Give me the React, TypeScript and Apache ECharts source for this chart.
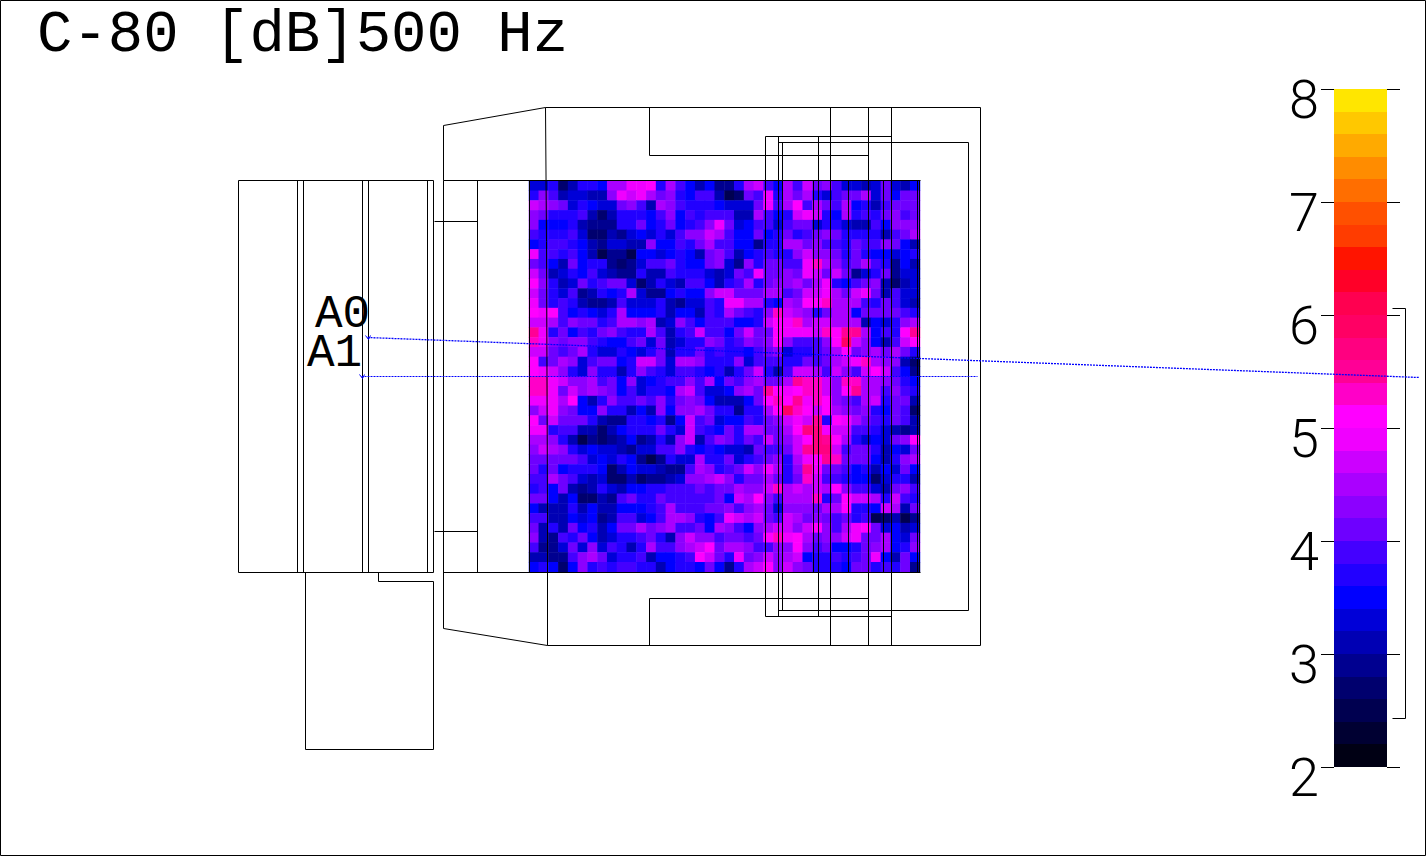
import React, { useEffect, useRef } from "react";
import * as echarts from "echarts";

const titleText = "C-80 [dB]500 Hz";
const tickValues = [2, 3, 4, 5, 6, 7, 8];

// colour bands of the scale: [low, high, colour]
const bandEdges = [2, 2.2, 2.4, 2.6, 2.8, 3, 3.2, 3.4, 3.6, 3.8, 4, 4.2, 4.4, 4.6, 4.8, 5, 5.2, 5.4, 5.6, 5.8, 6, 6.2, 6.4, 6.6, 6.8, 7, 7.2, 7.4, 7.6, 7.8, 8];
const bandColors = [
  "#000014", "#000032", "#000050", "#00006e", "#000090",
  "#0000b4", "#0000d8", "#0000ff", "#2200ff", "#4400ff",
  "#6e00ff", "#8c00ff", "#aa00ff", "#cc00ff", "#f000ff",
  "#ff00ff", "#ff00c8", "#ff0096", "#ff0080", "#ff0064",
  "#ff0050", "#ff0028", "#ff1400", "#ff3c00", "#ff5000",
  "#ff6e00", "#ff8c00", "#ffaa00", "#ffc800", "#ffe600",
];

// C-80 per seat-map cell, 40 rows of 40 columns (top row first)
const leftRows = [
  [3.3,3.3,3.7,2.7,3.1,3.7,3.7,3.5,4.5,4.5,4.9,4.9,5.1,3.7,4.5,3.9,3.5,3.1,3.5,2.9],
  [3.7,4.3,3.9,3.1,3.3,3.3,3.1,3.1,4.3,4.9,4.7,4.9,4.5,4.1,4.3,3.7,3.5,3.9,3.9,3.1],
  [4.7,4.5,4.3,4.1,3.3,3.7,3.5,3.3,3.3,4.1,4.3,3.9,3.1,4.5,4.3,3.9,3.7,3.7,3.7,3.5],
  [4.3,4.1,3.7,3.7,3.7,3.9,3.1,2.6,3.1,3.7,3.7,3.7,3.5,3.9,4.3,3.5,3.9,3.7,3.9,3.9],
  [4.3,3.5,3.5,3.5,3.7,3.0,2.9,2.9,2.8,3.6,3.6,4.1,3.5,3.7,4.1,3.5,3.7,3.9,4.3,4.9],
  [3.9,3.7,3.7,3.7,3.9,3.3,2.7,2.7,3.0,2.8,3.3,3.4,3.3,3.7,3.2,3.9,4.3,4.3,4.7,4.5],
  [3.5,3.7,3.9,3.9,3.7,3.5,3.0,2.8,3.3,3.2,3.1,3.1,4.3,3.5,3.5,3.9,3.7,4.1,4.5,3.9],
  [4.9,3.9,3.9,3.6,3.9,3.5,3.1,2.5,2.8,2.8,2.5,3.5,3.5,3.2,3.5,3.7,3.5,3.1,4.1,4.3],
  [4.1,3.9,3.5,3.1,4.1,3.5,3.7,3.7,2.9,2.7,2.8,3.3,3.9,3.8,4.1,3.7,3.5,3.5,4.1,4.3],
  [4.7,4.1,3.0,3.2,3.6,3.5,3.9,3.3,3.1,2.8,2.8,3.6,3.0,3.0,3.9,3.7,3.7,3.7,3.3,3.0],
  [5.1,4.3,3.7,3.1,3.3,4.1,3.7,3.9,4.1,4.1,3.2,2.7,3.0,3.7,3.2,3.0,3.9,3.9,3.5,3.1],
  [4.7,4.1,3.6,3.2,3.9,2.8,3.0,3.6,3.5,3.7,4.5,3.3,2.8,2.9,3.5,3.7,3.5,3.5,4.3,4.7],
  [4.9,4.1,3.7,3.9,3.7,3.0,2.9,2.9,3.0,3.9,3.2,3.2,3.2,3.7,3.1,2.8,3.2,3.2,3.8,3.7],
  [5.1,4.9,5.1,3.9,3.5,3.7,3.5,3.2,3.7,4.5,3.5,3.5,3.5,3.6,3.0,3.5,3.5,3.0,3.9,3.7],
  [4.7,4.7,4.5,3.9,4.3,4.1,4.1,3.7,3.9,4.5,4.5,4.3,4.5,3.0,3.2,4.3,3.9,3.5,3.9,3.9],
  [5.5,4.9,3.7,4.1,3.5,3.9,3.7,4.1,4.3,3.9,3.6,3.6,4.5,3.9,3.1,3.7,3.9,4.7,3.9,3.9],
  [5.3,4.9,4.3,4.1,4.3,4.3,3.9,3.7,3.5,3.5,3.9,4.1,3.2,4.1,3.0,3.2,3.7,3.7,4.3,4.1],
  [4.7,4.7,4.1,3.9,4.1,4.5,3.7,3.3,3.3,3.7,3.5,3.2,3.7,4.1,3.1,3.6,3.6,4.1,3.7,3.9],
  [5.1,3.9,4.1,4.5,4.3,3.2,3.9,4.1,4.1,3.5,3.7,4.7,4.7,4.1,3.2,4.5,4.5,4.3,3.7,3.6],
  [5.1,4.9,4.7,4.3,3.7,3.3,4.3,3.7,3.7,3.0,3.7,4.3,3.9,3.7,3.3,3.9,3.9,3.7,3.5,3.7],
  [5.3,5.3,4.9,4.7,4.3,4.3,4.5,3.9,4.1,3.5,4.3,3.2,3.5,3.7,3.9,3.9,4.3,3.9,4.5,3.4],
  [5.3,5.3,4.9,4.1,4.7,4.3,4.5,4.3,4.1,3.5,3.9,3.2,3.7,3.7,3.5,4.5,4.7,3.9,3.3,3.3],
  [4.9,4.9,4.9,4.5,5.1,3.5,3.1,3.7,4.3,3.9,3.9,4.1,3.9,4.3,3.7,4.1,4.3,4.1,3.5,3.0],
  [4.3,4.7,4.9,4.3,4.1,3.5,3.5,4.3,3.7,3.7,3.1,3.5,3.1,4.3,3.5,4.3,4.3,4.5,4.1,3.7],
  [5.1,4.1,4.7,4.1,4.1,4.1,3.7,3.1,2.8,2.9,3.7,3.6,3.5,3.7,2.9,3.5,4.7,3.9,4.1,3.2],
  [4.9,4.9,3.7,3.9,3.9,3.0,3.0,2.6,3.0,3.5,3.7,3.6,3.6,4.1,3.7,3.2,4.7,3.9,3.7,3.5],
  [4.5,4.5,4.3,3.7,3.0,2.4,2.9,2.6,2.9,3.1,3.5,2.8,3.0,3.6,3.1,4.3,4.7,3.1,3.9,4.3],
  [4.3,4.7,4.5,4.3,3.7,3.3,3.5,3.2,3.2,3.0,2.8,3.2,3.2,3.9,3.9,4.3,3.7,3.5,3.7,3.5],
  [4.1,4.1,4.1,4.1,4.1,3.9,3.3,3.5,3.2,3.7,3.5,2.9,2.4,2.8,3.7,3.3,3.3,4.5,3.7,3.7],
  [4.1,3.7,4.1,3.5,3.7,3.7,3.7,3.5,2.7,3.1,3.5,3.3,3.2,3.0,2.8,2.8,3.9,4.5,4.3,3.7],
  [3.9,3.9,4.5,4.1,3.9,3.2,3.0,3.2,2.7,2.7,3.0,2.6,2.9,2.9,3.1,3.3,4.3,4.3,4.5,4.7],
  [3.7,3.9,3.5,4.1,3.1,2.8,3.0,3.6,3.3,3.1,3.5,3.5,3.6,3.6,3.9,3.9,3.9,4.1,3.8,4.1],
  [4.1,4.1,3.5,3.0,3.5,2.6,2.7,3.1,2.8,3.9,4.1,3.7,3.7,4.1,3.9,3.9,3.8,3.9,3.9,4.0],
  [3.5,3.1,3.1,3.0,3.7,3.0,3.5,3.1,3.1,3.5,3.5,3.5,3.7,3.8,4.5,3.9,3.9,3.9,4.0,4.1],
  [3.9,3.9,3.0,3.0,3.5,3.3,3.5,2.9,3.0,3.9,3.9,3.2,3.5,3.9,4.5,4.5,4.3,3.7,3.5,3.9],
  [4.1,3.1,3.7,3.0,4.1,3.5,3.7,3.1,3.5,4.1,4.1,4.5,4.1,4.3,4.5,3.8,3.9,4.1,3.5,4.4],
  [4.3,3.0,2.9,3.9,3.7,4.1,3.5,3.1,3.2,3.7,3.7,3.8,4.1,3.7,3.0,4.3,4.7,4.3,4.3,3.9],
  [3.8,2.9,2.9,3.2,4.1,3.3,4.3,3.3,3.8,3.7,3.1,3.7,4.5,3.9,3.9,4.3,4.5,4.7,5.1,4.1],
  [3.0,3.0,2.9,2.9,3.9,4.3,4.5,4.1,3.2,3.7,3.7,3.9,3.1,3.5,3.5,3.7,3.9,5.0,4.7,4.1],
  [3.5,3.6,3.5,2.7,3.5,4.3,3.7,3.9,3.7,3.9,3.9,3.7,3.7,3.1,3.5,3.7,3.6,3.5,4.1,3.5],
];
const rightRows = [
  [2.9,3.7,4.5,4.7,3.9,3.5,4.5,3.9,4.7,4.1,4.3,3.9,3.3,3.3,3.1,3.2,4.1,3.3,3.0,3.4],
  [2.5,2.7,4.1,3.9,4.9,3.7,4.5,4.1,4.5,3.7,3.3,3.9,4.1,4.1,4.5,3.3,4.1,3.5,4.1,4.1],
  [3.2,3.2,3.2,4.1,4.9,3.9,4.5,5.1,3.9,4.5,4.1,3.9,4.5,3.5,3.7,3.1,3.9,4.1,4.1,4.1],
  [3.9,3.0,3.0,4.5,3.9,3.5,3.7,4.7,4.9,4.7,3.7,3.5,4.5,3.7,3.9,3.7,4.1,4.3,3.8,4.1],
  [4.1,3.3,3.5,3.9,3.9,3.3,3.9,4.1,4.1,3.3,3.6,3.6,3.3,3.0,3.0,3.9,3.5,4.3,4.3,4.3],
  [3.9,3.5,3.5,4.1,3.5,3.7,4.1,3.7,3.8,4.1,4.3,4.1,3.7,3.7,3.7,3.6,3.1,3.9,4.1,4.5],
  [3.9,3.5,3.5,2.9,3.7,3.7,4.5,4.5,4.1,4.3,3.9,3.9,3.6,4.1,3.9,3.9,4.3,4.1,3.5,3.1],
  [3.9,3.0,3.5,3.7,3.9,3.6,3.7,4.3,4.7,4.3,4.3,4.1,3.7,4.1,3.7,3.5,3.5,3.3,3.5,3.7],
  [3.2,2.8,4.3,3.7,4.1,4.1,3.9,3.9,4.9,5.3,4.5,4.3,3.9,4.1,4.5,3.9,3.7,2.8,3.5,3.1],
  [3.3,4.1,3.8,4.9,4.1,4.1,4.3,4.1,4.9,4.7,4.1,4.7,4.1,2.9,3.2,3.7,4.1,2.8,3.2,3.2],
  [3.6,3.9,4.5,3.7,4.1,4.3,4.3,4.5,4.1,4.5,4.9,3.6,3.5,3.9,4.1,4.3,3.0,2.7,3.0,3.3],
  [4.7,4.1,4.1,4.1,4.5,4.5,3.9,4.1,4.7,4.7,4.9,4.5,4.1,4.7,4.9,4.1,3.1,3.9,3.2,3.3],
  [4.9,4.9,4.5,4.5,3.7,3.5,4.5,4.3,5.1,5.1,5.3,4.5,4.5,4.5,3.9,3.6,4.1,3.9,3.2,3.0],
  [4.5,4.1,3.9,3.6,4.3,5.3,4.7,4.5,4.3,3.7,4.1,4.5,4.5,3.5,4.1,4.1,4.1,4.1,3.9,3.6],
  [3.9,3.5,3.5,3.7,4.7,5.1,4.9,5.3,4.5,4.7,4.7,4.5,4.5,4.5,3.1,3.5,3.2,3.7,4.3,4.5],
  [3.5,4.1,4.7,4.1,4.1,5.1,4.9,4.9,4.9,4.7,5.3,5.1,5.5,5.5,4.5,3.5,3.9,3.7,5.1,5.5],
  [3.7,3.9,4.3,4.1,4.3,5.1,4.3,3.9,3.9,3.9,4.3,5.1,5.9,4.7,4.3,3.5,3.0,3.9,4.7,5.1],
  [3.7,3.7,3.5,3.9,4.1,4.3,3.3,3.7,3.7,3.9,4.1,4.5,5.1,4.1,4.3,4.5,4.1,4.5,4.1,3.7],
  [3.6,4.3,3.2,3.9,3.9,3.9,3.7,3.7,4.1,3.9,4.1,4.5,4.7,4.9,5.3,4.5,4.3,4.3,3.1,2.7],
  [3.0,3.7,4.1,4.7,3.6,3.0,3.9,4.7,4.7,4.5,3.9,4.7,4.3,3.9,4.7,5.1,4.7,3.9,3.5,2.8],
  [4.1,3.9,4.3,4.5,4.1,4.0,4.5,5.5,5.3,5.3,4.7,4.3,5.3,5.3,4.5,4.5,4.3,4.1,3.7,3.4],
  [3.5,4.3,4.5,4.1,5.5,5.1,4.9,5.1,5.3,5.3,4.7,4.3,5.1,5.5,4.5,4.5,3.9,4.3,3.9,3.7],
  [3.0,3.1,3.5,4.1,5.1,5.3,5.1,5.5,4.9,5.3,5.1,4.3,4.1,3.9,4.5,4.7,3.7,4.1,4.1,3.1],
  [3.6,2.9,3.7,3.7,4.5,5.1,5.9,5.3,5.1,4.7,5.1,4.5,4.3,4.1,4.3,3.7,3.5,4.1,3.9,2.7],
  [3.4,3.4,3.9,3.7,4.1,4.3,4.7,4.9,4.7,5.5,3.6,5.1,4.9,4.5,4.1,3.9,3.6,4.0,3.8,3.0],
  [4.1,3.7,4.4,4.4,4.1,4.1,4.5,5.1,5.7,5.7,4.9,4.7,4.7,3.9,3.9,3.6,3.3,3.0,2.9,3.1],
  [4.0,3.7,4.1,3.9,4.7,4.1,4.3,4.7,5.1,5.7,5.5,5.1,4.5,3.7,3.3,3.5,3.3,4.1,4.3,5.1],
  [3.3,3.3,3.1,4.1,3.8,3.9,4.1,4.7,5.5,5.7,5.7,4.7,3.9,4.1,4.1,3.7,3.1,3.5,3.3,4.1],
  [4.1,3.2,3.6,3.9,4.1,4.3,3.7,4.5,4.9,5.1,5.5,5.3,4.1,4.1,4.1,3.5,3.1,3.7,4.3,4.5],
  [3.9,4.1,4.6,4.2,4.9,4.5,3.7,4.3,5.5,4.9,4.1,4.1,3.9,3.5,3.6,3.1,3.5,3.2,4.1,3.5],
  [4.3,3.7,4.1,4.1,4.5,4.1,3.6,4.1,5.3,4.7,3.9,3.9,3.7,3.5,3.5,2.7,3.2,3.7,3.6,3.0],
  [4.0,4.4,4.3,4.3,4.7,5.3,4.5,4.7,4.5,4.7,4.5,5.0,4.3,3.8,3.9,3.2,3.0,4.1,4.3,3.8],
  [3.5,4.7,4.5,5.1,4.3,3.9,4.5,4.5,4.5,5.3,3.6,4.1,5.1,4.7,4.7,4.5,3.7,4.7,3.9,3.7],
  [4.3,3.9,4.3,4.5,4.1,3.3,4.3,4.3,4.3,4.1,4.5,4.5,5.1,3.6,3.7,3.5,4.7,4.5,3.1,4.1],
  [4.9,4.7,4.5,4.6,4.1,3.9,4.7,4.5,4.1,4.3,4.1,3.9,4.1,3.7,3.9,2.5,2.7,3.1,2.4,2.9],
  [4.3,3.8,3.5,4.3,4.5,4.7,4.7,4.3,4.7,5.1,4.2,3.9,4.5,4.9,5.1,4.1,3.2,3.5,3.1,3.2],
  [4.1,4.1,3.9,4.1,5.1,5.3,4.9,5.0,4.5,4.1,4.3,4.3,4.7,4.9,4.0,4.1,4.5,3.4,3.3,4.1],
  [4.5,4.5,4.3,3.9,3.9,4.3,4.3,5.1,4.3,3.8,4.1,3.5,3.5,3.7,4.0,4.3,4.5,3.5,3.7,4.2],
  [3.6,4.9,4.1,4.3,4.6,4.3,4.5,4.7,3.4,3.7,3.6,3.9,3.7,3.9,4.1,4.9,3.4,3.1,4.1,3.5],
  [2.9,3.7,4.5,4.7,5.0,4.3,4.7,4.3,4.0,3.7,3.7,3.7,3.5,4.1,4.1,3.7,3.9,3.7,4.1,2.9],
];

// outline of the hall plan, in plan units
const pageFrame = [[0,0],[1425,0],[1425,855],[0,855],[0,0]];
const stageBlock = [[238,180],[433,180],[433,572],[238,572],[238,180]];
const stageSide = [[378,572],[378,581],[433,581],[433,749],[305,749],[305,572]];
const hallOutline = [[443,180],[443,125],[545,107],[980,107],[980,645],[547,645],[443,628],[443,180]];
const hallFloor = [[443,180],[920,180]];
const hallFront = [[443,572],[920,572]];
const sideWall = [[545,107],[546,241],[547,511],[547,645]];
const upperBalcony = [[649,107],[649,155],[868,155]];
const lowerBalcony = [[649,645],[649,598],[868,598]];
const outerBox = [[765,136],[891,136]];
const outerBoxLow = [[765,616],[891,616]];
const innerBox = [[778,142],[968,142],[968,610],[778,610]];
const alcoveTop = [[434,221],[477,221]];
const alcoveLow = [[434,531],[477,531]];
const stageColumns = [297,303,362,368,427];
const floorColumn = [477];
const longColumns = [830,868,891];
const boxColumns = [765,778,818];
const innerColumn = [782];
const seatColumns = [813,848,883,917,919];
const seatEdge = [529];

// source-receiver section lines
const sectionA0 = [[367,337],[1419,377]];
const sectionA1 = [[361,376],[977,376]];
const markA0 = [[365,335],[368,339],[370,335]];
const markA1 = [[359,374],[362,378],[364,374]];

const verticals = (xs: number[], y0: number, y1: number) => xs.map((x) => [[x, y0], [x, y1]]);

const blackLines = [
  pageFrame, stageBlock, stageSide, hallOutline, hallFloor, hallFront, sideWall,
  upperBalcony, lowerBalcony, outerBox, outerBoxLow, innerBox, alcoveTop, alcoveLow,
  ...verticals(stageColumns, 180, 572),
  ...verticals(floorColumn, 180, 572),
  ...verticals(longColumns, 107, 645),
  ...verticals(boxColumns, 136, 616),
  ...verticals(innerColumn, 142, 610),
  ...verticals(seatColumns, 180, 572),
  ...verticals(seatEdge, 180, 572),
];
const blueLines = [sectionA0, sectionA1, markA0, markA1];

const lineSeries = (pts: number[][], color: string, dash?: number[], width = 1) => ({
  type: "line",
  xAxisIndex: 0,
  yAxisIndex: 0,
  data: pts.map(([x, y]) => [x + 0.5, y + 0.5]),
  showSymbol: false,
  symbol: "none",
  silent: true,
  clip: false,
  z: 5,
  lineStyle: { color, width, type: dash || "solid", cap: "butt" },
});

export default function App() {
  const ref = useRef<HTMLDivElement>(null);
  useEffect(() => {
    const chart = echarts.init(ref.current!, undefined, { renderer: "svg" });
    const heat: number[][] = [];
    leftRows.forEach((row, r) => {
      row.forEach((v, c) => heat.push([c, r, v]));
      rightRows[r].forEach((v, c) => heat.push([c + 20, r, v]));
    });
    const cats = Array.from({ length: 40 }, (_, i) => String(i));
    const bandData = bandColors.map((_, i) => [bandEdges[i], bandEdges[i + 1], i]);
    chart.setOption({
      animation: false,
      backgroundColor: "#ffffff",
      title: {
        text: titleText,
        left: 37,
        top: 6,
        padding: 0,
        textStyle: { fontFamily: "Liberation Mono", fontSize: 59, fontWeight: "normal", color: "#000" },
      },
      tooltip: { show: false },
      grid: [
        { left: 0, top: 0, width: 1426, height: 857 },
        { left: 529, top: 181, width: 391, height: 391 },
        { left: 1334, top: 89, width: 53, height: 678 },
      ],
      xAxis: [
        { type: "value", gridIndex: 0, min: 0, max: 1426, show: false },
        { type: "category", gridIndex: 1, data: cats, show: false },
        { type: "value", gridIndex: 2, min: 0, max: 1, show: false },
      ],
      yAxis: [
        { type: "value", gridIndex: 0, min: 0, max: 857, inverse: true, show: false },
        { type: "category", gridIndex: 1, data: cats, inverse: true, show: false },
        {
          type: "value",
          gridIndex: 2,
          min: 2,
          max: 8,
          interval: 1,
          position: "left",
          splitLine: { show: false },
          axisLine: { show: false },
          axisTick: { show: true, length: 13, lineStyle: { color: "#000", width: 1 } },
          axisLabel: {
            show: true,
            margin: 15,
            fontFamily: "Roboto",
            fontWeight: 300,
            fontSize: 54,
            color: "#000",
            verticalAlign: "top",
            lineHeight: 20,
            formatter: (v: number) => (tickValues.includes(v) ? String(v) : ""),
          },
        },
        {
          type: "value",
          gridIndex: 2,
          min: 2,
          max: 8,
          interval: 1,
          position: "right",
          splitLine: { show: false },
          axisLine: { show: false },
          axisTick: { show: true, length: 13, lineStyle: { color: "#000", width: 1 } },
          axisLabel: { show: false },
        },
      ],
      visualMap: {
        type: "piecewise",
        show: false,
        seriesIndex: 0,
        dimension: 2,
        pieces: bandColors.map((color, i) => ({ gte: bandEdges[i], lt: bandEdges[i + 1], color })),
      },
      graphic: [
        { type: "text", x: 315, y: 296, z: 10, style: { text: "A0", font: "46px 'Liberation Mono'", lineHeight: 38, fill: "#000" } },
        { type: "text", x: 307, y: 335, z: 10, style: { text: "A1", font: "46px 'Liberation Mono'", lineHeight: 38, fill: "#000" } },
        {
          type: "group",
          z: 10,
          children: [
            { type: "polyline", shape: { points: [[1392.5, 308.5], [1405.5, 308.5], [1405.5, 718.5], [1392.5, 718.5]] }, style: { stroke: "#000", fill: "none", lineWidth: 1 } },
          ],
        },
      ],
      series: [
        {
          type: "heatmap",
          xAxisIndex: 1,
          yAxisIndex: 1,
          data: heat,
          z: 2,
          silent: true,
          itemStyle: { borderWidth: 0 },
          emphasis: { disabled: true },
        },
        {
          type: "custom",
          xAxisIndex: 2,
          yAxisIndex: 2,
          data: bandData,
          z: 2,
          silent: true,
          encode: { y: [0, 1] },
          renderItem: (_: any, api: any) => {
            const low = api.coord([0, api.value(0)]);
            const high = api.coord([1, api.value(1)]);
            const y = Math.round(high[1]);
            return {
              type: "rect",
              shape: { x: low[0], y, width: high[0] - low[0], height: Math.round(low[1]) - y },
              style: { fill: bandColors[api.value(2)] },
            };
          },
        },
        ...blackLines.map((p) => lineSeries(p, "#000000")),
        ...blueLines.map((p, i) => lineSeries(p, "#0000ff", i < 2 ? [2, 1] : undefined, i === 0 ? 1.3 : 1)),
      ],
    });
    return () => chart.dispose();
  }, []);
  return <div ref={ref} style={{ position: "absolute", left: 0, top: 0, width: 1426, height: 857 }} />;
}
